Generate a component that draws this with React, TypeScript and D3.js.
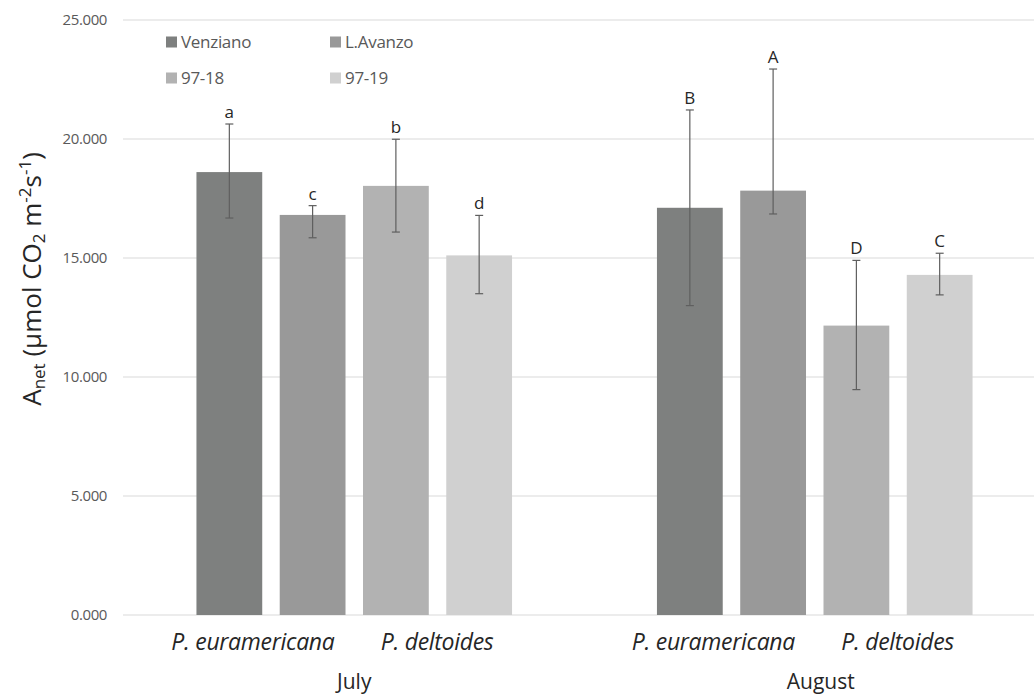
import { useEffect, useRef } from "react";
import * as d3 from "d3";

const months = ["July", "August"];
const series = ["Venziano", "L.Avanzo", "97-18", "97-19"];
const species = ["P. euramericana", "P. deltoides"];
const colors = ["#7e807f", "#999999", "#b2b2b2", "#d0d0d0"];
const yTicks = [0, 5, 10, 15, 20, 25];

// mean values, per month, per clone
const julyValues = [18.61, 16.81, 18.03, 15.11];
const augustValues = [17.11, 17.83, 12.16, 14.29];
// error bar ends (upper / lower)
const julyUpper = [20.63, 17.2, 19.99, 16.79];
const julyLower = [16.68, 15.85, 16.09, 13.5];
const augustUpper = [21.22, 22.94, 14.9, 15.2];
const augustLower = [13.0, 16.85, 9.47, 13.45];
// significance letters
const julyLetters = ["a", "c", "b", "d"];
const augustLetters = ["B", "A", "D", "C"];

const width = 1034;
const height = 696;
const font = "'Open Sans', 'Noto Sans', sans-serif";

const App = () => {
    const svgRef = useRef<SVGSVGElement>(null);

    useEffect(() => {
        const svg = d3.select(svgRef.current);
        svg.selectAll("*").remove();

        const data = months.flatMap((m, mi) =>
            series.map((s, si) => ({
                month: m,
                series: s,
                idx: si,
                value: mi === 0 ? julyValues[si] : augustValues[si],
                upper: mi === 0 ? julyUpper[si] : augustUpper[si],
                lower: mi === 0 ? julyLower[si] : augustLower[si],
                letter: mi === 0 ? julyLetters[si] : augustLetters[si],
            }))
        );

        const y = d3.scaleLinear().domain([0, 25]).range([615, 20]);
        const x0 = d3.scaleBand().domain(months).range([124, 1045]).padding(0);
        const x1 = d3.scaleBand()
            .domain(series)
            .range([0, x0.bandwidth()])
            .paddingInner(0.21)
            .paddingOuter(0.87);

        // gridlines
        svg.append("g")
            .selectAll("line")
            .data(yTicks)
            .enter()
            .append("line")
            .attr("x1", 123)
            .attr("x2", width)
            .attr("y1", d => y(d))
            .attr("y2", d => y(d))
            .attr("stroke", "#d9d9d9")
            .attr("stroke-width", 1);

        // tick labels
        svg.append("g")
            .selectAll("text")
            .data(yTicks)
            .enter()
            .append("text")
            .attr("x", 107)
            .attr("y", d => y(d))
            .attr("dy", "0.35em")
            .attr("text-anchor", "end")
            .attr("font-family", font)
            .attr("font-size", 15)
            .attr("letter-spacing", "-0.4")
            .attr("fill", "#595959")
            .text(d => d3.format(".3f")(d));

        // bars
        const barX = (d: any) => (x0(d.month) ?? 0) + (x1(d.series) ?? 0);
        svg.append("g")
            .selectAll("rect")
            .data(data)
            .enter()
            .append("rect")
            .attr("x", barX)
            .attr("y", d => y(d.value))
            .attr("width", x1.bandwidth())
            .attr("height", d => y(0) - y(d.value))
            .attr("fill", d => colors[d.idx]);

        // error bars
        const eb = svg.append("g")
            .attr("stroke", "#5f5f5f")
            .attr("stroke-width", 1.2);
        data.forEach(d => {
            const cx = barX(d) + x1.bandwidth() / 2;
            eb.append("line").attr("x1", cx).attr("x2", cx)
                .attr("y1", y(d.upper)).attr("y2", y(d.lower));
            [d.upper, d.lower].forEach(v => {
                eb.append("line").attr("x1", cx - 4).attr("x2", cx + 4)
                    .attr("y1", y(v)).attr("y2", y(v));
            });
        });

        // letters
        svg.append("g")
            .selectAll("text")
            .data(data)
            .enter()
            .append("text")
            .attr("x", d => barX(d) + x1.bandwidth() / 2)
            .attr("y", d => y(d.upper) - 6)
            .attr("text-anchor", "middle")
            .attr("font-family", font)
            .attr("font-size", 17)
            .attr("fill", "#262626")
            .text(d => d.letter);

        // species labels (offset within each month)
        const speciesOffset = [-0.22, 0.18];
        months.forEach(m => {
            const c = (x0(m) ?? 0) + x0.bandwidth() / 2;
            species.forEach((s, i) => {
                svg.append("text")
                    .attr("x", c + speciesOffset[i] * x0.bandwidth())
                    .attr("y", 650)
                    .attr("text-anchor", "middle")
                    .attr("font-family", font)
                    .attr("font-style", "italic")
                    .attr("font-size", 23)
                    .attr("letter-spacing", "-0.3")
                    .attr("fill", "#262626")
                    .text(s);
            });
            svg.append("text")
                .attr("x", c + (m === "August" ? 6 : 0))
                .attr("y", 689)
                .attr("text-anchor", "middle")
                .attr("font-family", font)
                .attr("font-size", 21)
                .attr("fill", "#262626")
                .text(m);
        });

        // legend
        const legend = svg.append("g");
        series.forEach((s, i) => {
            const lx = 166 + (i % 2) * 164;
            const ly = 42 + Math.floor(i / 2) * 36;
            legend.append("rect")
                .attr("x", lx).attr("y", ly - 5.5)
                .attr("width", 11).attr("height", 11)
                .attr("fill", colors[i]);
            legend.append("text")
                .attr("x", lx + 15).attr("y", ly)
                .attr("dy", "0.35em")
                .attr("font-family", font)
                .attr("font-size", 17)
                .attr("letter-spacing", "-0.3")
                .attr("fill", "#595959")
                .text(s);
        });

        // y axis title
        const title = svg.append("text")
            .attr("transform", "translate(41,279) rotate(-90)")
            .attr("text-anchor", "middle")
            .attr("font-family", font)
            .attr("font-size", 26)
            .attr("fill", "#262626");
        title.append("tspan").text("A");
        title.append("tspan").attr("font-size", 17).attr("dy", 4).text("net");
        title.append("tspan").attr("dy", -4).text(" (µmol CO");
        title.append("tspan").attr("font-size", 17).attr("dy", 4).text("2");
        title.append("tspan").attr("dy", -4).text(" m");
        title.append("tspan").attr("font-size", 17).attr("dy", -10).text("-2");
        title.append("tspan").attr("dy", 10).text("s");
        title.append("tspan").attr("font-size", 17).attr("dy", -10).text("-1");
        title.append("tspan").attr("dy", 10).text(")");
    }, []);

    return (
        <svg
            ref={svgRef}
            width={width}
            height={height}
            style={{ position: "absolute", left: 0, top: 0, background: "#fff" }}
        />
    );
};

export default App;
